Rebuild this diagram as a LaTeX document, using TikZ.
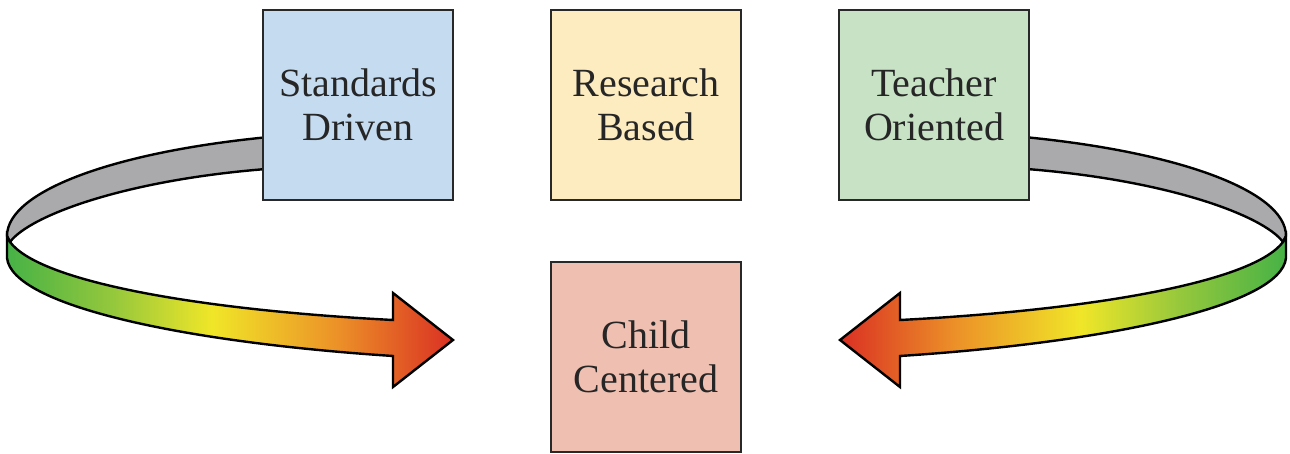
\documentclass[tikz,border=0pt]{standalone}
\usepackage{fontspec}
\setmainfont{Liberation Serif}
\usepackage{tikz}
\usetikzlibrary{positioning}

\definecolor{stdblue}{RGB}{197,219,240}
\definecolor{resyellow}{RGB}{253,236,192}
\definecolor{teagreen}{RGB}{199,226,196}
\definecolor{chipink}{RGB}{239,192,178}
\definecolor{edgegray}{RGB}{40,40,40}
\definecolor{bandgray}{RGB}{170,170,173}
\definecolor{bandgreen}{RGB}{70,178,70}
\definecolor{bandlime}{RGB}{150,200,60}
\definecolor{bandyellow}{RGB}{240,230,40}
\definecolor{bandorange}{RGB}{236,145,40}
\definecolor{bandred}{RGB}{218,48,35}

\pgfdeclarehorizontalshading{bandshade}{100bp}{color(0bp)=(bandgreen); color(25bp)=(bandgreen);
  color(37bp)=(bandlime); color(48bp)=(bandyellow); color(62bp)=(bandorange);
  color(75bp)=(bandred); color(100bp)=(bandred)}

\tikzset{
  pics/ribbon/.style={code={
    % back of the band, runs behind the top box
    \filldraw[bandback] (280,136) .. controls (120,150) and (7,190) .. (7,236)
      -- (10,242) .. controls (30,215) and (130,178) .. (280,168) -- cycle;
    % front of the band with its arrow head
    \shadedraw[bandfront, shading angle=#1] (7,236) -- (7,258)
      .. controls (12,305) and (180,342) .. (393,356)
      -- (393,387) -- (453,340) -- (393,293) -- (393,320)
      .. controls (200,310) and (40,282) .. (10,242) -- cycle;
  }}
}

\begin{document}
\begin{tikzpicture}[
  x=0.5pt, y=-0.5pt,
  node distance=30pt and 48pt,
  box/.style={draw=edgegray,line width=1pt,minimum width=95pt,minimum height=95pt,
              align=center,font=\fontsize{20}{22}\selectfont,text=black!85},
  bandback/.style={fill=bandgray,draw=black,line width=1.2pt},
  bandfront/.style={shading=bandshade,draw=black,line width=1.2pt},
]
\useasboundingbox (0,0) rectangle (1290,454);

% ribbons first so the boxes sit on top
\pic at (0,0) {ribbon=0};
\pic[xscale=-1] at (1293,0) {ribbon=180};

% top row
\node[box, fill=stdblue] (std) at (358,105) {Standards\\Driven};
\node[box, fill=resyellow, right=of std] (res) {Research\\Based};
\node[box, fill=teagreen, right=of res]  (tea) {Teacher\\Oriented};

% bottom
\node[box, fill=chipink, below=of res] (chi) {Child\\Centered};

\end{tikzpicture}
\end{document}
